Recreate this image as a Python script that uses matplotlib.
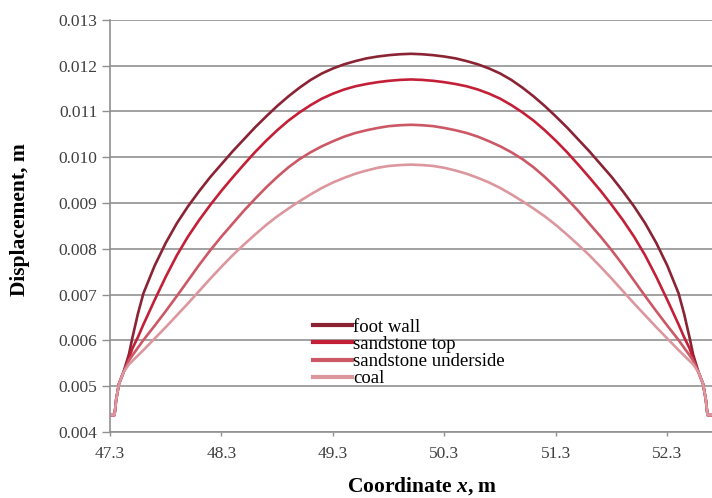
import matplotlib
matplotlib.use("Agg")
import matplotlib.pyplot as plt

# coordinate along the section, m
coord_x = [47.30, 47.34, 47.345, 47.355, 47.38, 47.42, 47.47, 47.50, 47.55, 47.60,
           47.70, 47.80, 47.90, 48.00, 48.10, 48.20, 48.30, 48.40, 48.50, 48.60,
           48.70, 48.80, 48.90, 49.00, 49.10, 49.20, 49.30, 49.40, 49.50, 49.60,
           49.70, 49.80, 49.90, 50.00,
           50.10, 50.20, 50.30, 50.40, 50.50, 50.60, 50.70, 50.80, 50.90, 51.00,
           51.10, 51.20, 51.30, 51.40, 51.50, 51.60, 51.70, 51.80, 51.90, 52.00,
           52.10, 52.20, 52.30, 52.40, 52.45, 52.50, 52.53, 52.58, 52.62, 52.645,
           52.655, 52.66, 52.70]

# displacement, m
foot_wall = [0.00437, 0.00437, 0.00447, 0.00470, 0.00505, 0.00530,
             0.00570, 0.00605, 0.00658, 0.00703, 0.00763, 0.00813, 0.00856, 0.00893, 0.00926, 0.00957,
             0.00985, 0.01013, 0.01039, 0.01065, 0.01089, 0.01112, 0.01133, 0.01152, 0.01169, 0.01183,
             0.01194, 0.01203, 0.01210, 0.01216, 0.01220, 0.01223, 0.01225, 0.01226,
             0.01225, 0.01223, 0.01220, 0.01216, 0.01210, 0.01203, 0.01194, 0.01183, 0.01169, 0.01152,
             0.01133, 0.01112, 0.01089, 0.01065, 0.01039, 0.01013, 0.00985, 0.00957, 0.00926, 0.00893,
             0.00856, 0.00813, 0.00763, 0.00703, 0.00658, 0.00605, 0.00570,
             0.00530, 0.00505, 0.00470, 0.00447, 0.00437, 0.00437]

sandstone_top = [0.00437, 0.00437, 0.00447, 0.00470, 0.00505, 0.00530,
                 0.00560, 0.00582, 0.00607, 0.00635, 0.00688, 0.00739, 0.00786, 0.00827, 0.00863, 0.00896,
                 0.00927, 0.00956, 0.00984, 0.01011, 0.01036, 0.01059, 0.01080, 0.01098, 0.01114, 0.01128,
                 0.01139, 0.01148, 0.01155, 0.01160, 0.01164, 0.01167, 0.01169, 0.01170,
                 0.01169, 0.01167, 0.01164, 0.01160, 0.01155, 0.01148, 0.01139, 0.01128, 0.01114, 0.01098,
                 0.01080, 0.01059, 0.01036, 0.01011, 0.00984, 0.00956, 0.00927, 0.00896, 0.00863, 0.00827,
                 0.00786, 0.00739, 0.00688, 0.00635, 0.00607, 0.00582, 0.00560,
                 0.00530, 0.00505, 0.00470, 0.00447, 0.00437, 0.00437]

sandstone_under = [0.00437, 0.00437, 0.00447, 0.00470, 0.00505, 0.00530,
                   0.00556, 0.00567, 0.00584, 0.00601, 0.00632, 0.00664, 0.00697, 0.00731, 0.00765, 0.00797,
                   0.00827, 0.00855, 0.00883, 0.00909, 0.00934, 0.00957, 0.00978, 0.00996, 0.01011, 0.01024,
                   0.01035, 0.01045, 0.01053, 0.01059, 0.01064, 0.01068, 0.01070, 0.01071,
                   0.01070, 0.01068, 0.01064, 0.01059, 0.01053, 0.01045, 0.01035, 0.01024, 0.01011, 0.00996,
                   0.00978, 0.00957, 0.00934, 0.00909, 0.00883, 0.00855, 0.00827, 0.00797, 0.00765, 0.00731,
                   0.00697, 0.00664, 0.00632, 0.00601, 0.00584, 0.00567, 0.00556,
                   0.00530, 0.00505, 0.00470, 0.00447, 0.00437, 0.00437]

coal = [0.00437, 0.00437, 0.00447, 0.00470, 0.00505, 0.00530,
        0.00548, 0.00555, 0.00567, 0.00579, 0.00604, 0.00629, 0.00655, 0.00681, 0.00708, 0.00735,
        0.00761, 0.00786, 0.00809, 0.00831, 0.00852, 0.00871, 0.00888, 0.00904, 0.00919, 0.00933,
        0.00945, 0.00955, 0.00964, 0.00971, 0.00977, 0.00981, 0.00983, 0.00984,
        0.00983, 0.00981, 0.00977, 0.00971, 0.00964, 0.00955, 0.00945, 0.00933, 0.00919, 0.00904,
        0.00888, 0.00871, 0.00852, 0.00831, 0.00809, 0.00786, 0.00761, 0.00735, 0.00708, 0.00681,
        0.00655, 0.00629, 0.00604, 0.00579, 0.00567, 0.00555, 0.00548,
        0.00530, 0.00505, 0.00470, 0.00447, 0.00437, 0.00437]

series_names = ['foot wall', 'sandstone top', 'sandstone underside', 'coal']
series_colors = ['#8a2434', '#c32038', '#cc5866', '#dc979e']

x_ticks = [47.3, 48.3, 49.3, 50.3, 51.3, 52.3]
y_ticks = [0.004, 0.005, 0.006, 0.007, 0.008, 0.009, 0.010, 0.011, 0.012, 0.013]

plt.rcParams['font.family'] = ['Liberation Serif', 'DejaVu Serif']
plt.rcParams['mathtext.fontset'] = 'custom'
plt.rcParams['mathtext.it'] = 'Liberation Serif:italic:bold'
plt.rcParams['mathtext.rm'] = 'Liberation Serif:bold'

fig = plt.figure(figsize=(7.12, 4.98), dpi=100, facecolor='white')
ax = fig.add_axes([0.1545, 0.1325, 0.8455, 0.8275])

all_series = [foot_wall, sandstone_top, sandstone_under, coal]
for vals, name, col in zip(all_series, series_names, series_colors):
    ax.plot(coord_x, vals, color=col, lw=1.9, label=name, solid_joinstyle='round')

ax.set_xlim(47.3, 52.7)
ax.set_ylim(0.004, 0.013)
ax.set_xticks(x_ticks)
ax.set_xticklabels(['%.1f' % t for t in x_ticks])
ax.set_yticks(y_ticks)
ax.set_yticklabels(['%.3f' % t for t in y_ticks])
ax.tick_params(labelsize=12.5, labelcolor='#404040', colors='#909090', width=1, direction='out')
ax.tick_params(axis='y', length=6, pad=3)
ax.tick_params(axis='x', length=3, pad=7)

ax.yaxis.grid(True, color='#9a9a9a', lw=1.3)
ax.set_axisbelow(True)
for s in ['top', 'right']:
    ax.spines[s].set_visible(False)
for s in ['left', 'bottom']:
    ax.spines[s].set_color('#909090')
    ax.spines[s].set_linewidth(1.2)

ax.set_ylabel('Displacement, m', fontsize=15.5, fontweight='bold')
ax.set_xlabel('Coordinate $x$, m', fontsize=15.5, fontweight='bold')
ax.yaxis.set_label_coords(-0.133, 0.515)
ax.xaxis.set_label_coords(0.518, -0.104)

leg = ax.legend(loc='upper left', bbox_to_anchor=(0.324, 0.293), frameon=False,
                fontsize=13.5, handlelength=2.1, handletextpad=0.05, labelspacing=0.0,
                borderaxespad=0)
for line in leg.get_lines():
    line.set_linewidth(3)

fig.savefig('out.png', dpi=100, facecolor='white')
